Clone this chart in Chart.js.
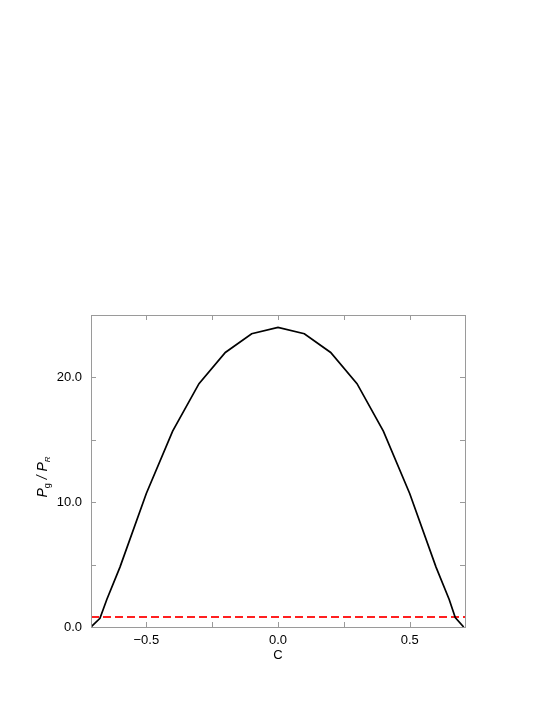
<!DOCTYPE html>
<html>
<head>
<meta charset="utf-8">
<script src="https://cdn.jsdelivr.net/npm/chart.js@4/dist/chart.umd.min.js"></script>
<style>
html,body{margin:0;padding:0;background:#fff;}
#wrap{width:545px;height:705px;position:relative;}
</style>
</head>
<body>
<div id="wrap"><canvas id="c" width="545" height="705"></canvas></div>
<script>
// ---- data ----
const cValues = [-0.71, -0.676, -0.65, -0.6, -0.5, -0.4, -0.3, -0.2, -0.1, 0.0, 0.1, 0.2, 0.3, 0.4, 0.5, 0.6, 0.65, 0.673, 0.705];
const ratioValues = [0.0, 0.7, 2.2, 4.8, 10.7, 15.7, 19.5, 22.0, 23.5, 24.0, 23.5, 22.0, 19.5, 15.7, 10.7, 4.8, 2.2, 0.75, 0.0];
const thresholdC = [-0.71, 0.71];
const thresholdValues = [0.8, 0.8];
const xTicks = [-0.5, -0.25, 0.0, 0.25, 0.5];
const xLabelled = [-0.5, 0.0, 0.5];
const yTicks = [0, 5, 10, 15, 20];
const yLabelled = [0, 10, 20];
const xTitle = "C";

const FONT = "'Liberation Sans', Arial, Helvetica, sans-serif";

const framePlugin = {
  id: 'frame',
  afterDraw(chart) {
    const ctx = chart.ctx, a = chart.chartArea;
    const xs = chart.scales.x, ys = chart.scales.y;
    ctx.save();
    ctx.strokeStyle = '#9a9a9a';
    ctx.lineWidth = 1;
    ctx.strokeRect(Math.round(a.left) + 0.5, Math.round(a.top) + 0.5, Math.round(a.right - a.left), Math.round(a.bottom - a.top));
    const L = 5;
    ctx.beginPath();
    xTicks.forEach(v => {
      const px = Math.round(xs.getPixelForValue(v)) + 0.5;
      ctx.moveTo(px, a.bottom); ctx.lineTo(px, a.bottom - L);
      ctx.moveTo(px, a.top); ctx.lineTo(px, a.top + L);
    });
    yTicks.forEach(v => {
      const py = Math.round(ys.getPixelForValue(v)) + 0.5;
      ctx.moveTo(a.left, py); ctx.lineTo(a.left + L, py);
      ctx.moveTo(a.right, py); ctx.lineTo(a.right - L, py);
    });
    ctx.stroke();

    // y-axis title with subscripts: P_g / P_R
    const parts = [
      {t: 'P', f: 'italic 14px ' + FONT, dy: 0},
      {t: 'g', f: '9px ' + FONT, dy: 3},
      {t: ' / ', f: 'italic 14px ' + FONT, dy: 0},
      {t: 'P', f: 'italic 14px ' + FONT, dy: 0},
      {t: 'R', f: 'italic 8px ' + FONT, dy: 3}
    ];
    let total = 0;
    parts.forEach(p => { ctx.font = p.f; p.w = ctx.measureText(p.t).width; total += p.w; });
    ctx.translate(46.5, 477);
    ctx.rotate(-Math.PI / 2);
    ctx.fillStyle = '#000';
    ctx.textBaseline = 'alphabetic';
    ctx.textAlign = 'left';
    let x = -total / 2;
    parts.forEach(p => { ctx.font = p.f; ctx.fillText(p.t, x, p.dy); x += p.w; });
    ctx.restore();
  }
};

const fmt = v => {
  const s = Number(v).toFixed(1);
  return s.replace('-', '\u2212');
};

new Chart(document.getElementById('c'), {
  type: 'line',
  data: {
    datasets: [
      {
        data: cValues.map((c, i) => ({x: c, y: ratioValues[i]})),
        borderColor: '#000',
        borderWidth: 1.7,
        pointRadius: 0,
        tension: 0,
        fill: false
      },
      {
        data: thresholdC.map((c, i) => ({x: c, y: thresholdValues[i]})),
        borderColor: '#ff2020',
        borderWidth: 2,
        borderDash: [8, 4],
        pointRadius: 0,
        tension: 0,
        fill: false
      }
    ]
  },
  options: {
    responsive: false,
    animation: false,
    devicePixelRatio: 1,
    plugins: {legend: {display: false}, tooltip: {enabled: false}},
    layout: {padding: {left: 0, right: 80, top: 315, bottom: 0}},
    scales: {
      x: {
        type: 'linear',
        min: -0.71, max: 0.71,
        grid: {display: false, drawTicks: false},
        border: {display: false},
        afterBuildTicks: s => { s.ticks = xLabelled.map(v => ({value: v})); },
        afterFit: s => { s.height = 78; },
        ticks: {
          padding: 6,
          color: '#000',
          font: {family: FONT, size: 13},
          maxRotation: 0,
          callback: v => fmt(v)
        },
        title: {
          display: true, text: xTitle, color: '#000',
          font: {family: FONT, size: 13},
          padding: {top: 0, bottom: 42}
        }
      },
      y: {
        type: 'linear',
        min: 0, max: 25,
        grid: {display: false, drawTicks: false},
        border: {display: false},
        afterBuildTicks: s => { s.ticks = yLabelled.map(v => ({value: v})); },
        afterFit: s => { s.width = 91; },
        ticks: {
          padding: 9,
          color: '#000',
          font: {family: FONT, size: 13},
          callback: v => fmt(v)
        }
      }
    }
  },
  plugins: [framePlugin]
});
</script>
</body>
</html>
